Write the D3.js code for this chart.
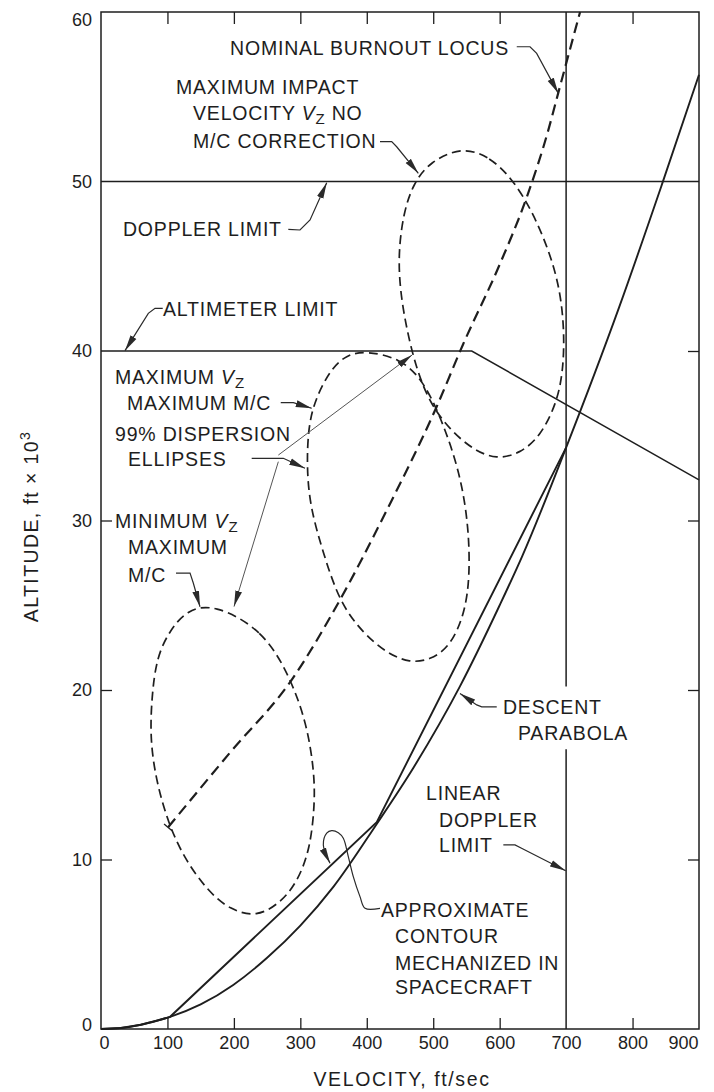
<!DOCTYPE html>
<html><head><meta charset="utf-8">
<script src="https://cdn.jsdelivr.net/npm/d3@7"></script>
<style>
body{margin:0;background:#fff;}
svg{display:block;font-family:"Liberation Sans",Arial,sans-serif;}
</style></head><body>
<svg id="chart" width="714" height="1092"></svg>
<script>
// ---------- data (velocity ft/sec, altitude ft x 10^3) ----------
const velocityTicks = [0,100,200,300,400,500,600,700,800,900];
const altitudeTicks = [0,10,20,30,40,50,60];
const innerVelocityTicks = [100,200,300,400,500,600,800];
const innerLeftAltTicks = [10,20,30];
const innerRightAltTicks = [10,20,30,40];

const dopplerLimit = [[0,50],[900,50]];
const altimeterLimit = [[0,40],[558,40],[900,32.4]];
const linearDopplerUpper = [[700,20.2],[700,60]];
const linearDopplerLower = [[700,0],[700,16.5]];

const descentParabola = [[0,0],[30,0.06],[60,0.25],[85,0.5],[104,0.72],[150,1.45],[199,2.6],[250,4.2],[300,6.1],[350,8.4],[415,12.1],[470,15.4],[540,20.2],[600,25.0],[634,27.9],[700,34.3],[780,42.6],[844,49.8],[900,56.3]];
const approxContour = [[0,0],[30,0.06],[60,0.25],[85,0.5],[104,0.72],[415,12.2],[700,34.3]];

const burnoutLocus = [[101,11.9],[194,16.3],[287,20.6],[358,25.2],[430,30.6],[505,36.7],[545,40.4],[600,45.1],[641,49.1],[673,53.0],[688,55.2],[721,60]];
const locusEndTick = [[94.9,12.1],[106.9,11.7]];

const ellipseMinVz = [[169,25.1],[244,23.54],[284.5,20.78],[309.6,18.03],[320.6,15.28],[322,13.33],[314.6,10.56],[294.6,8.61],[269.4,7.43],[234.3,6.6],[194.2,7.02],[159.1,8.2],[123.9,10.17],[101.3,12.15],[83.8,14.51],[73.8,17.05],[76.3,19.6],[83.8,21.96],[103.9,23.54],[129,24.7]];
const ellipseMaxVz = [[399.9,40.0],[450,39.57],[485,38.29],[515.2,35.73],[540.3,32.78],[552.8,29.83],[555.4,26.88],[547.9,24.52],[525.3,22.55],[495.2,21.77],[465.1,21.6],[430,22.17],[394.8,23.35],[359.7,25.11],[334.6,28.06],[314.6,30.81],[309.6,33.17],[312,35.53],[322,37.11],[344.7,38.88],[369.8,39.8]];
const ellipseImpact = [[542.9,52.05],[585.5,51.46],[620.6,50.09],[650.7,48.12],[675.8,45.76],[690.9,43.6],[697.3,41.24],[695.8,38.88],[685.9,36.91],[660.8,34.94],[630.6,33.96],[595.6,33.6],[560.4,34.16],[525.3,35.34],[495.2,36.91],[475.2,38.88],[460.1,41.24],[450,43.6],[447.5,45.76],[455,48.12],[470,49.89],[495.2,51.17]];

// ---------- annotations (anchored in data units) ----------
const labelLines = [
  ["NOMINAL BURNOUT LOCUS",194.2,57.46],
  ["MAXIMUM IMPACT",112.9,55.16],
  ["VELOCITY V_Z NO",138.5,53.63],
  ["M/C CORRECTION",138.5,52.0],
  ["DOPPLER LIMIT",33.1,46.78],
  ["ALTIMETER LIMIT",93.3,42.06],
  ["MAXIMUM V_Z",21.1,38.05],
  ["MAXIMUM M/C",39.1,36.52],
  ["99% DISPERSION",21.1,34.69],
  ["ELLIPSES",40.6,33.22],
  ["MINIMUM V_Z",21.1,29.56],
  ["MAXIMUM",40.6,28.02],
  ["M/C",40.6,26.37],
  ["DESCENT",605,18.58],
  ["PARABOLA",627.6,17.05],
  ["LINEAR",489.2,13.51],
  ["DOPPLER",508.7,11.92],
  ["LIMIT",508.7,10.44],
  ["APPROXIMATE",421.4,6.61],
  ["CONTOUR",442.5,5.07],
  ["MECHANIZED IN",442.5,3.48],
  ["SPACECRAFT",442.5,2.06]
];
const leaders = [
  {pts:[[625.7,57.95],[645.7,57.95],[655.7,57.56],[688.3,55.2]]},
  {pts:[[419.9,52.35],[437.5,52.35],[445,52.05],[477.6,50.48]]},
  {pts:[[281.9,47.18],[299.5,47.14],[314.6,47.73],[339.7,49.93]]},
  {pts:[[92.9,42.52],[81.3,42.52],[71.2,42.22],[36.1,40.02]]},
  {pts:[[270.5,36.95],[289.5,36.95],[317.1,36.62]]},
  {pts:[[226.8,33.67],[274.4,33.67],[307,33.08]]},
  {pts:[[266.9,33.86],[468.1,39.76]], thin:true},
  {pts:[[266.9,33.47],[200.2,24.92]], thin:true},
  {pts:[[112.9,26.9],[134,26.9],[138.9,26.31],[149,24.91]]},
  {pts:[[595.6,19.01],[573,19.01],[565.5,19.12],[540.3,19.8]]},
  {pts:[[605.5,10.86],[623.1,10.86],[632.2,10.68],[699.4,9.34]]},
  {pts:[[419.9,7.12],[397.4,7.12],[389.8,7.81],[379.7,8.99],[372.2,10.17],[364.7,11.25],[357.2,11.58],[347.2,11.7],[339.7,11.55],[334.6,10.86],[344.7,9.78]], smooth:true}
];

// ---------- layout ----------
const W = 714, H = 1092;
const margin = {top:12, right:15, bottom:63, left:101};
const svg = d3.select("#chart");
const x = d3.scaleLinear().domain([0,900]).range([margin.left, W - margin.right]);
const y = d3.scaleLinear().domain([0,60]).range([H - margin.bottom, margin.top]);
const ink = "#1e1e1e";

svg.append("defs").append("marker")
  .attr("id","arrow").attr("viewBox","0 0 16 8").attr("refX",16).attr("refY",4)
  .attr("markerWidth",16).attr("markerHeight",8).attr("markerUnits","userSpaceOnUse")
  .attr("orient","auto")
  .append("path").attr("d","M0,0.6 L16,4 L0,7.4 Z").attr("fill","#2a2a2a");

// frame
svg.append("rect").attr("x",x(0)).attr("y",y(60)).attr("width",x(900)-x(0)).attr("height",y(0)-y(60))
  .attr("fill","none").attr("stroke",ink).attr("stroke-width",1.5);

function styleAxis(g){ g.select(".domain").remove(); g.selectAll("line").attr("stroke",ink).attr("stroke-width",1.3); }

svg.append("g").attr("transform",`translate(0,${y(0)})`)
  .call(d3.axisBottom(x).tickValues(innerVelocityTicks).tickSize(-11).tickFormat("")).call(styleAxis);
svg.append("g").attr("transform",`translate(0,${y(60)})`)
  .call(d3.axisTop(x).tickValues(innerVelocityTicks).tickSize(-12).tickFormat("")).call(styleAxis);
svg.append("g").attr("transform",`translate(${x(0)},0)`)
  .call(d3.axisLeft(y).tickValues(innerLeftAltTicks).tickSize(-11).tickFormat("")).call(styleAxis);
svg.append("g").attr("transform",`translate(${x(900)},0)`)
  .call(d3.axisRight(y).tickValues(innerRightAltTicks).tickSize(-11).tickFormat("")).call(styleAxis);

// tick labels
const gxl = svg.append("g").attr("transform",`translate(0,${y(0)})`)
  .call(d3.axisBottom(x).tickValues(velocityTicks).tickSize(0).tickPadding(7).tickFormat(d3.format("d")));
gxl.select(".domain").remove();
gxl.selectAll("text").attr("font-size",18).attr("fill",ink).attr("font-family","Liberation Sans, Arial, sans-serif")
  .attr("dx", d => d===900 ? -16 : (d===0 ? 3 : 0));
const gyl = svg.append("g").attr("transform",`translate(${x(0)},0)`)
  .call(d3.axisLeft(y).tickValues(altitudeTicks).tickSize(0).tickPadding(9).tickFormat(d3.format("d")));
gyl.select(".domain").remove();
gyl.selectAll("text").attr("font-size",18).attr("fill",ink).attr("font-family","Liberation Sans, Arial, sans-serif")
  .attr("transform", d => d===60 ? "translate(0,8)" : (d===0 ? "translate(0,-4)" : null));

// axis titles
svg.append("text").attr("x",(x(0)+x(900))/2+2).attr("y",H-6).attr("text-anchor","middle")
  .attr("font-size",19.5).attr("letter-spacing",1.6).attr("fill",ink).text("VELOCITY, ft/sec");
const yt = svg.append("text").attr("transform",`translate(38,${(y(0)+y(60))/2+6}) rotate(-90)`)
  .attr("text-anchor","middle").attr("font-size",19.5).attr("letter-spacing",1.4).attr("fill",ink);
yt.append("tspan").text("ALTITUDE, ft × 10");
yt.append("tspan").attr("dy",-8).attr("font-size",14).text("3");

// lines
const line = d3.line().x(d=>x(d[0])).y(d=>y(d[1]));
function solid(data, w){ svg.append("path").datum(data).attr("d",line).attr("fill","none").attr("stroke",ink).attr("stroke-width",w||1.6); }
solid(dopplerLimit,1.5);
solid(altimeterLimit,1.5);
solid(linearDopplerUpper,1.5);
solid(linearDopplerLower,1.5);

svg.append("path").datum(descentParabola).attr("d",d3.line().x(d=>x(d[0])).y(d=>y(d[1])).curve(d3.curveMonotoneX))
  .attr("fill","none").attr("stroke",ink).attr("stroke-width",1.9);
svg.append("path").datum(approxContour).attr("d",line).attr("fill","none").attr("stroke",ink).attr("stroke-width",1.9);

// locus
svg.append("path").datum(burnoutLocus).attr("d",d3.line().x(d=>x(d[0])).y(d=>y(d[1])).curve(d3.curveMonotoneX))
  .attr("fill","none").attr("stroke",ink).attr("stroke-width",2.2).attr("stroke-dasharray","11,6");
solid(locusEndTick,1.3);

// ellipses
const closed = d3.line().x(d=>x(d[0])).y(d=>y(d[1])).curve(d3.curveBasisClosed);
[ellipseMinVz, ellipseMaxVz, ellipseImpact].forEach(e=>{
  svg.append("path").datum(e).attr("d",closed).attr("fill","none").attr("stroke",ink)
    .attr("stroke-width",1.7).attr("stroke-dasharray","9,5");
});

// leaders
leaders.forEach(l=>{
  const gen = d3.line().x(d=>x(d[0])).y(d=>y(d[1])).curve(l.smooth ? d3.curveCatmullRom.alpha(0.5) : d3.curveLinear);
  svg.append("path").datum(l.pts).attr("d",gen).attr("fill","none")
    .attr("stroke", l.thin ? "#555" : "#2a2a2a").attr("stroke-width", l.thin ? 1 : 1.2)
    .attr("marker-end","url(#arrow)");
});

// labels
labelLines.forEach(([t,v,a])=>{
  const tx = svg.append("text").attr("x",x(v)).attr("y",y(a)).attr("font-size",19.5)
    .attr("letter-spacing",0.8).attr("fill",ink);
  const parts = t.split("V_Z");
  parts.forEach((p,i)=>{
    if (p) tx.append("tspan").text(p);
    if (i < parts.length-1){
      tx.append("tspan").attr("font-style","italic").text("V");
      tx.append("tspan").attr("dy",4).attr("font-size",15).text("Z");
      tx.append("tspan").attr("dy",-4).text(" ");
    }
  });
});
</script>
</body></html>
